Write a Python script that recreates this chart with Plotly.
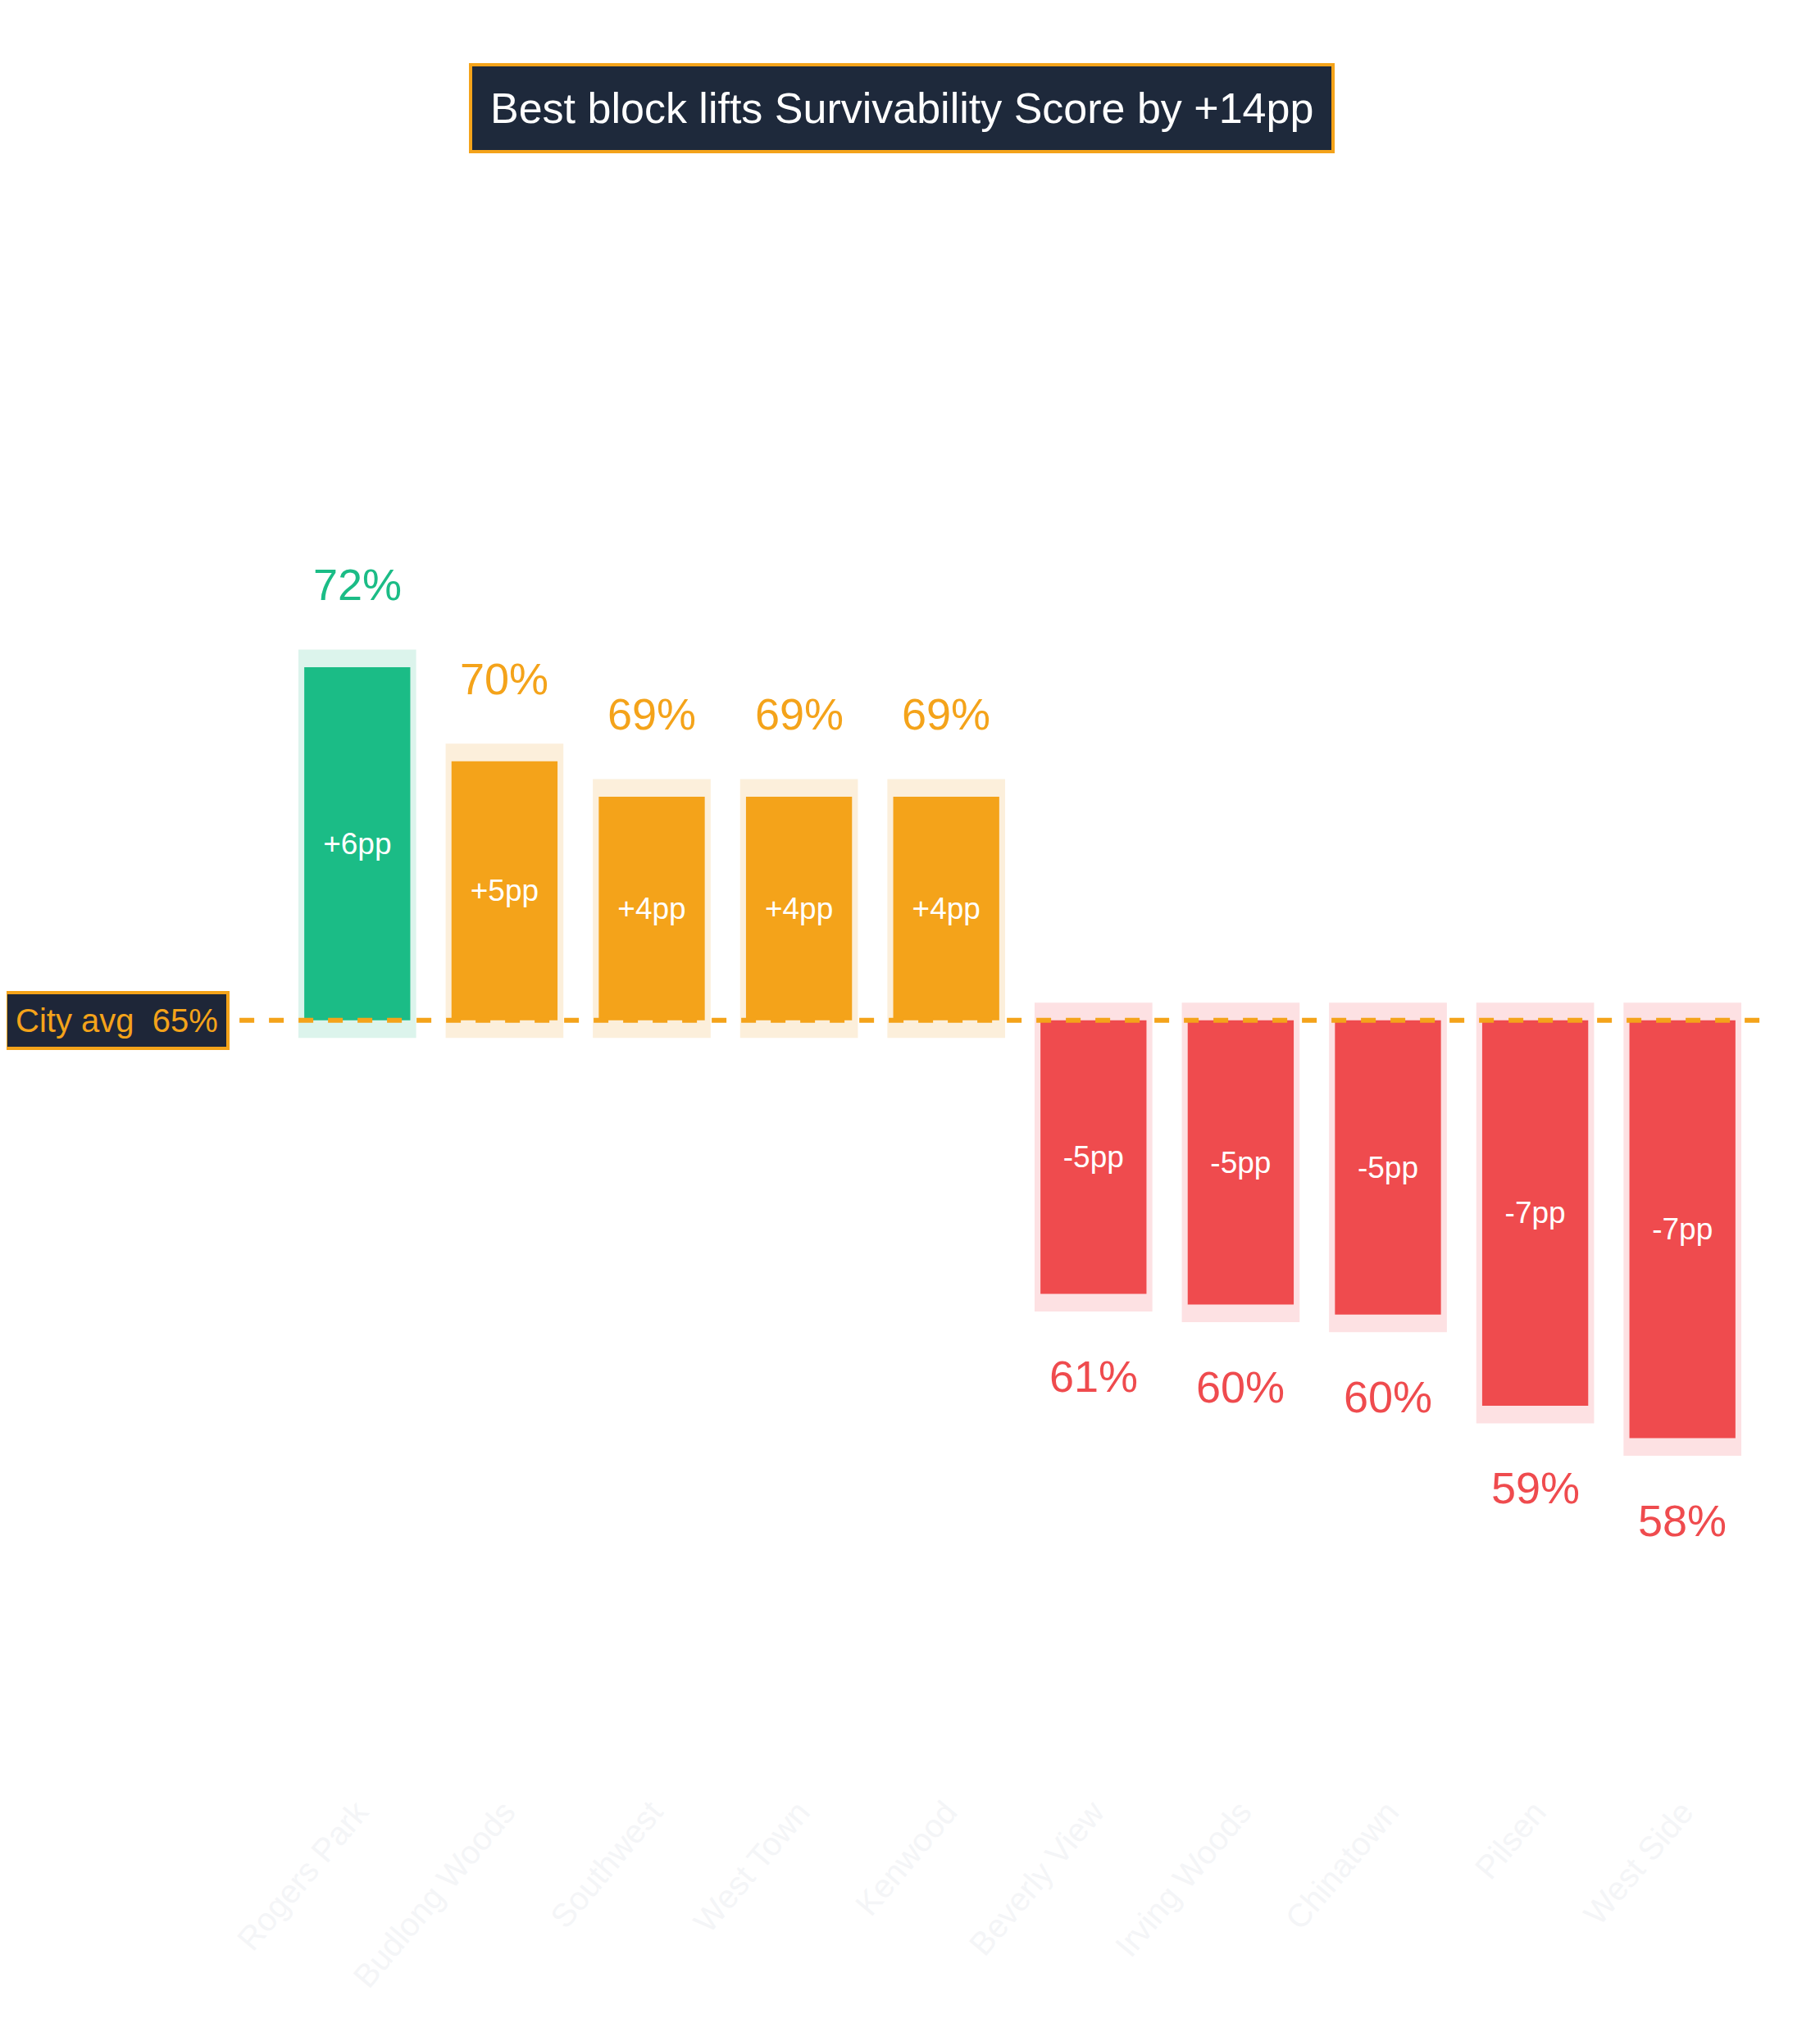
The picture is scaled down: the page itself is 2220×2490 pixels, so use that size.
import plotly.graph_objects as go

neighborhoods = ["Rogers Park", "Budlong Woods", "Southwest", "West Town", "Kenwood",
                 "Beverly View", "Irving Woods", "Chinatown", "Pilsen", "West Side"]
city_avg = 65.0
deltas = [6.0, 4.4, 3.8, 3.8, 3.8, -4.65, -4.83, -5.0, -6.55, -7.1]
score_labels = ["72%", "70%", "69%", "69%", "69%", "61%", "60%", "60%", "59%", "58%"]
delta_labels = ["+6pp", "+5pp", "+4pp", "+4pp", "+4pp", "-5pp", "-5pp", "-5pp", "-7pp", "-7pp"]

GREEN, ORANGE, RED = "#1bbc86", "#f4a31a", "#ef4b4e"
HALO = {GREEN: "#dcf4ec", ORANGE: "#fcefdb", RED: "#fde1e3"}

colors = []
for i, d in enumerate(deltas):
    if i == 0:
        colors.append(GREEN)
    elif d > 0:
        colors.append(ORANGE)
    else:
        colors.append(RED)

pad = 0.3
halo_base = [city_avg - pad if d > 0 else city_avg + pad for d in deltas]
halo_h = [d + 2 * pad if d > 0 else d - 2 * pad for d in deltas]

fig = go.Figure()
fig.add_bar(x=neighborhoods, y=halo_h, base=halo_base, width=0.8,
            marker=dict(color=[HALO[c] for c in colors], line_width=0),
            hoverinfo="skip", showlegend=False)
fig.add_bar(x=neighborhoods, y=deltas, base=[city_avg] * len(deltas), width=0.72,
            marker=dict(color=colors, line_width=0),
            text=delta_labels, textposition="inside", insidetextanchor="middle",
            textangle=0, textfont=dict(size=37, color="white"), showlegend=False)

for name, d, lab, c in zip(neighborhoods, deltas, score_labels, colors):
    y = city_avg + d + (1.4 if d > 0 else -1.4)
    fig.add_annotation(x=name, y=y, text=lab, showarrow=False,
                       font=dict(size=54, color=c))

fig.add_shape(type="line", xref="paper", yref="y", x0=-0.03, x1=1.01,
              y0=city_avg, y1=city_avg,
              line=dict(color=ORANGE, width=6, dash="dash"), layer="above")
fig.add_annotation(xref="paper", yref="y", x=-0.19, y=city_avg, xanchor="left",
                   text="City avg  65%", showarrow=False,
                   font=dict(size=40, color=ORANGE), bgcolor="#1e2638",
                   bordercolor=ORANGE, borderwidth=4, borderpad=10)
fig.add_annotation(xref="paper", yref="paper", x=0.42, y=1.0, yanchor="middle",
                   text="Best block lifts Survivability Score by +14pp", showarrow=False,
                   font=dict(size=52, color="white"), bgcolor="#1e293b",
                   bordercolor=ORANGE, borderwidth=4, borderpad=22)

fig.update_layout(
    width=2220, height=2490, barmode="overlay",
    paper_bgcolor="white", plot_bgcolor="white",
    font=dict(family="Liberation Sans, Arial, sans-serif"),
    margin=dict(l=338, r=86, t=124, b=320),
    xaxis=dict(tickangle=-50, tickfont=dict(size=40, color="#f4f5f7"),
               showgrid=False, zeroline=False, showline=False, range=[-0.5, 9.5]),
    yaxis=dict(range=[52, 80.5], visible=False),
)
fig.write_html("out.html")
